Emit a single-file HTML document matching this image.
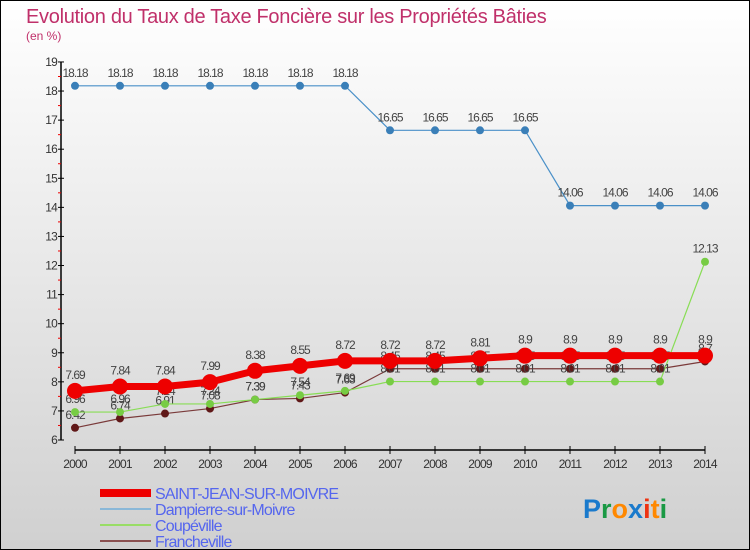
<!DOCTYPE html>
<html><head><meta charset="utf-8"><style>
body{margin:0}
#wrap{width:750px;height:550px;position:relative;box-sizing:border-box;border:1px solid #000;background:linear-gradient(#ffffff,#d0d0d0);font-family:"Liberation Sans",sans-serif;overflow:hidden}
</style></head><body>
<div id="wrap">
<svg id="chart" width="750" height="550" style="position:absolute;left:-1px;top:-1px"></svg>
</div>
<script>
const years=[2000,2001,2002,2003,2004,2005,2006,2007,2008,2009,2010,2011,2012,2013,2014];
const saintJean=[7.69,7.84,7.84,7.99,8.38,8.55,8.72,8.72,8.72,8.81,8.9,8.9,8.9,8.9,8.9];
const dampierre=[18.18,18.18,18.18,18.18,18.18,18.18,18.18,16.65,16.65,16.65,16.65,14.06,14.06,14.06,14.06];
const coupeville=[6.96,6.96,7.24,7.24,7.39,7.54,7.69,8.01,8.01,8.01,8.01,8.01,8.01,8.01,12.13];
const francheville=[6.42,6.74,6.91,7.08,7.39,7.43,7.63,8.45,8.45,8.45,8.45,8.45,8.45,8.45,8.7];
const yTicks=[6,7,8,9,10,11,12,13,14,15,16,17,18,19];
const NS='http://www.w3.org/2000/svg';
const svg=document.getElementById('chart');
const x=i=>75+i*45;
const y=v=>440-(v-6)*29.08;
function el(t,a,p){const e=document.createElementNS(NS,t);for(const k in a)e.setAttribute(k,a[k]);(p||svg).appendChild(e);return e;}
let t=el('text',{x:26,y:23,'font-size':20,fill:'#c0306a','letter-spacing':'-0.3'});t.textContent='Evolution du Taux de Taxe Foncière sur les Propriétés Bâties';

t=el('text',{x:26,y:40,'font-size':12,fill:'#c0306a'});t.textContent='(en %)';

let ax=el('line',{x1:61,y1:y(19),x2:61,y2:440,stroke:'#000','stroke-width':1.5});

ax=el('line',{x1:75,y1:450,x2:x(14),y2:450,stroke:'#000','stroke-width':1.5});

yTicks.forEach(v=>{el('line',{x1:58,y1:y(v),x2:64,y2:y(v),stroke:'#000'});
if(v<19)el('line',{x1:58,y1:y(v+0.5),x2:61,y2:y(v+0.5),stroke:'#e00'});
const tt=el('text',{x:57,y:y(v)+4,'font-size':12,fill:'#333','text-anchor':'end','letter-spacing':'-0.8'});tt.textContent=v;
});
years.forEach((yr,i)=>{el('line',{x1:x(i),y1:446,x2:x(i),y2:454,stroke:'#000'});
const tt=el('text',{x:x(i),y:468,'font-size':12,fill:'#333','text-anchor':'middle','letter-spacing':'-0.8'});tt.textContent=yr;
});
function series(data,color,w,r,dot,name){
const g=el('g',{});
el('polyline',{points:data.map((v,i)=>x(i)+','+y(v)).join(' '),fill:'none',stroke:color,'stroke-width':w},g);
data.forEach((v,i)=>{const c=el('circle',{cx:x(i),cy:y(v),r:r,fill:dot},g);
const tt=el('text',{x:x(i),y:y(v)-9-(r>5?3:0),'font-size':12,fill:'#444','text-anchor':'middle','letter-spacing':'-1'},g);tt.textContent=v;});}
series(dampierre,'#4a90c8',1.2,4,'#3a7fb8','dampierre-series');
series(francheville,'#7a3a3a',1.2,4,'#601818','francheville-series');
series(coupeville,'#88dd55',1.2,4,'#77cc44','coupeville-series');
series(saintJean,'#ee0000',7,8,'#ee0000','saint-jean-series');
const leg=[['SAINT-JEAN-SUR-MOIVRE','#ee0000',8],['Dampierre-sur-Moivre','#8ab8d8',2],['Coupéville','#99dd66',2],['Francheville','#8a5050',2]];
leg.forEach((l,i)=>{const yy=493+i*16;const g=el('g',{});
el('line',{x1:100,y1:yy,x2:151,y2:yy,stroke:l[1],'stroke-width':l[2]},g);
const tt=el('text',{x:155,y:yy+6,'font-size':16,fill:'#5566ee','letter-spacing':'-0.8'},g);tt.textContent=l[0];});
const lg=el('text',{x:583,y:518,'font-size':27,'font-weight':'bold','font-family':'"Liberation Sans",sans-serif'});

[['P','#1a7acc'],['r','#1a9944'],['o','#ff8800'],['x','#1a7acc'],['i','#ee3311'],['t','#ff8800'],['i','#1a9944']].forEach(c=>{const s=el('tspan',{fill:c[1]},lg);s.textContent=c[0];});
</script>
</body></html>
